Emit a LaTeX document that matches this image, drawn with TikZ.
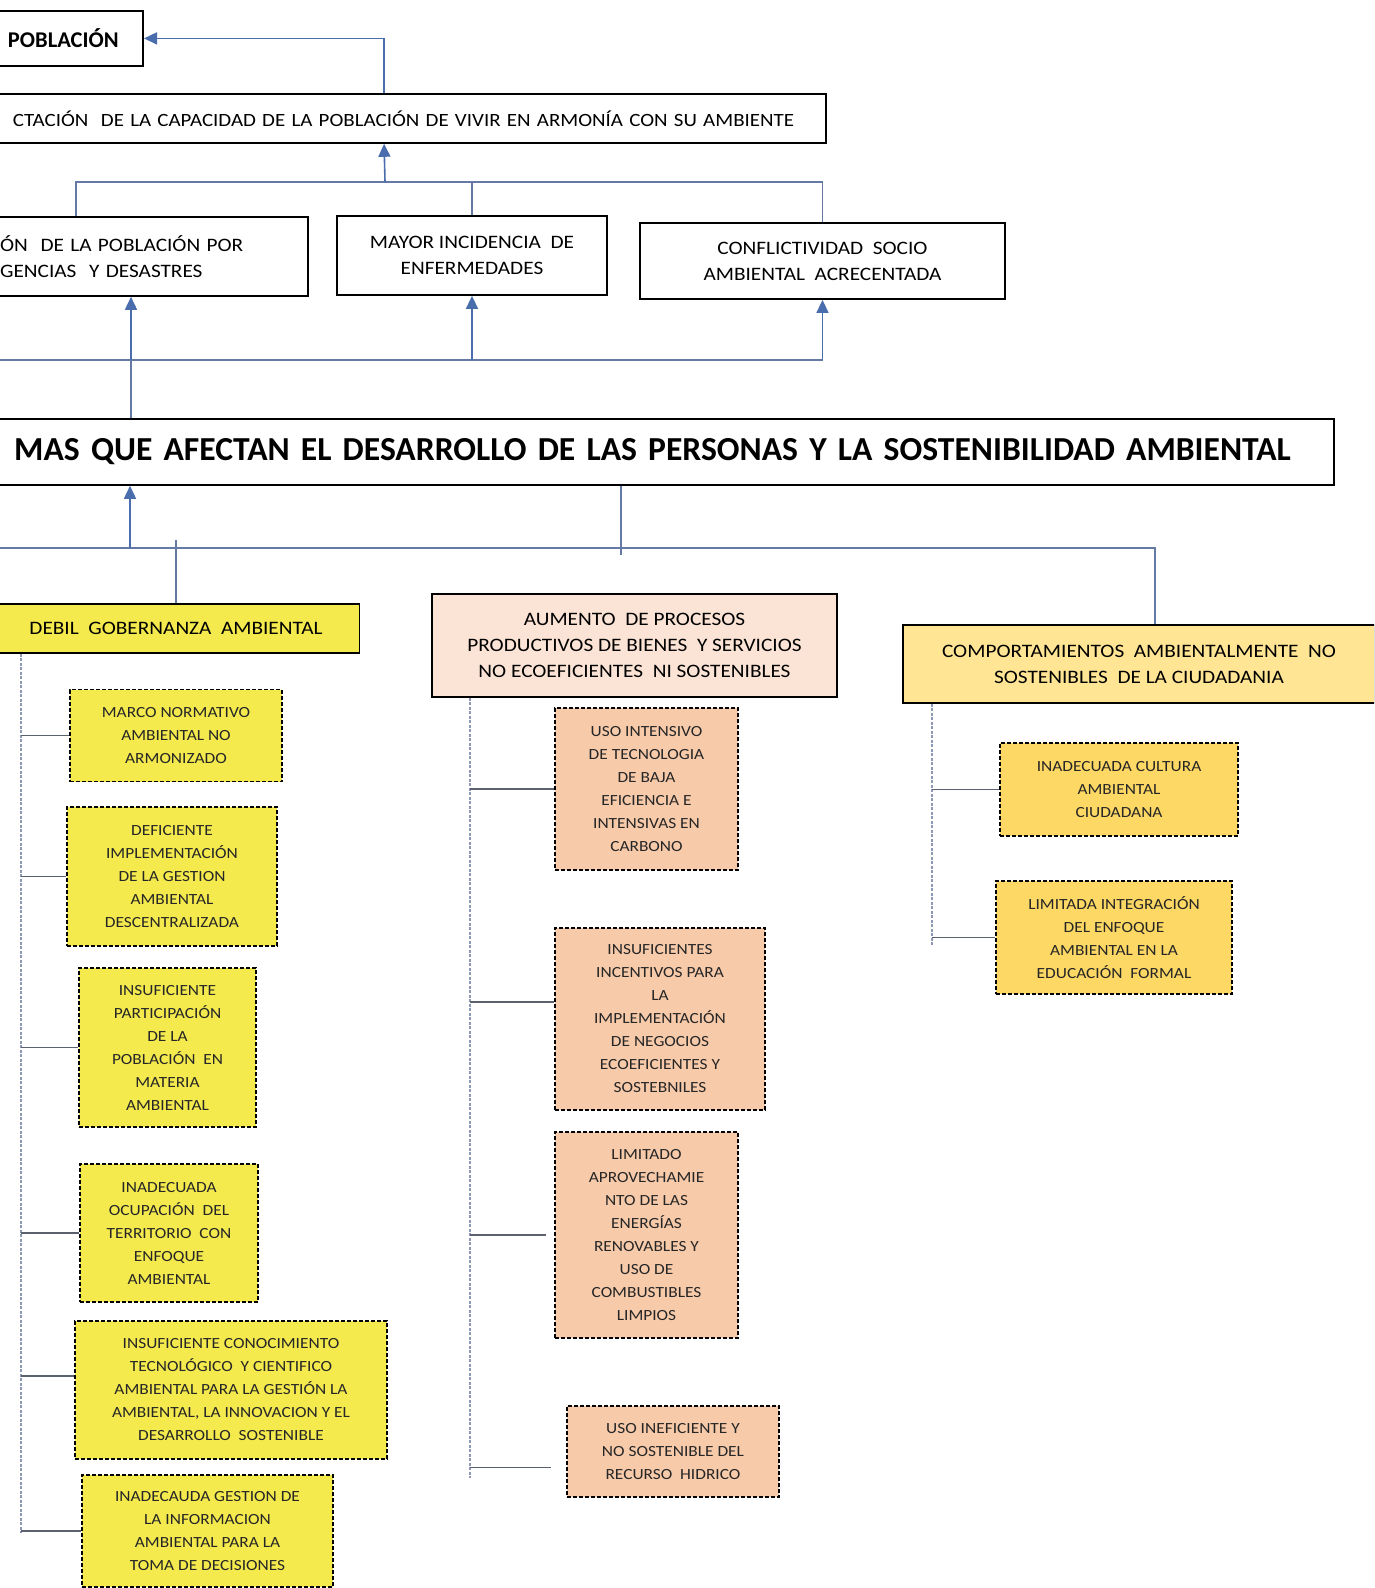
\documentclass[tikz,border=0pt]{standalone}
\usepackage{fontspec}
\setmainfont{Carlito}
\newfontfamily\widefont{Carlito}[FakeStretch=1.12]
\usetikzlibrary{arrows.meta, positioning}

\definecolor{arrowblue}{HTML}{4A6DAE}
\definecolor{linkblue}{HTML}{6479A3}
\definecolor{spinegray}{HTML}{8C98B4}
\definecolor{twiggray}{HTML}{5C6170}
\definecolor{govyellow}{HTML}{F4EA4E}
\definecolor{procpeach}{HTML}{FBE4D5}
\definecolor{subpeach}{HTML}{F7CAAA}
\definecolor{citgold}{HTML}{FFE594}
\definecolor{subgold}{HTML}{FDD864}

\begin{document}
\begin{tikzpicture}[x=1pt, y=-1pt,
  topbox/.style={draw, line width=1.8pt, fill=white, font=\widefont\fontsize{19}{26}\selectfont, align=center, inner sep=0pt},
  mainbox/.style={draw, line width=1.8pt, fill=white, font=\bfseries\fontsize{33.6}{40}\selectfont, inner sep=0pt},
  causebox/.style={draw, line width=1.8pt, font=\widefont\fontsize{19}{26}\selectfont, align=center, inner sep=0pt},
  subbox/.style={draw, line width=1.6pt, dash pattern=on 4pt off 2pt, font=\widefont\fontsize{15.5}{23}\selectfont, text=black!85, align=center, inner sep=0pt},
  arr/.style={arrowblue, line width=1.6pt, -{Triangle[length=13pt,width=12pt]}},
  link/.style={linkblue, line width=1.6pt},
  spine/.style={spinegray, line width=1.3pt, dash pattern=on 3pt off 1.5pt},
  twig/.style={twiggray, line width=1.5pt}
]
\useasboundingbox (0,0) rectangle (1374,1588);
\fill[white] (0,0) rectangle (1374,1588);
\clip (0,0) rectangle (1374,1588);

% effects
\node[topbox, font=\bfseries\fontsize{22.5}{26}\selectfont, anchor=north east, minimum height=55pt, text width=200pt, align=right, inner xsep=24.5pt] (pob) at (144,10) {POBLACIÓN};
\node[topbox, font=\widefont\fontsize{18.7}{26}\selectfont, anchor=north east, minimum height=49pt, text width=820pt, align=right, inner xsep=32pt] (cap) at (827,93) {CTACIÓN\ \ DE LA CAPACIDAD DE LA POBLACIÓN DE VIVIR EN ARMONÍA CON SU AMBIENTE};
\node[topbox, anchor=north east, minimum height=79pt, text width=300pt, align=left, inner xsep=8pt] (emg) at (309,216) {ÓN\ \ DE LA POBLACIÓN POR\\GENCIAS\ \ Y DESASTRES};
\node[topbox, minimum width=270pt, minimum height=79pt] (enf) at (472,255.5) {MAYOR INCIDENCIA\ \ DE\\ENFERMEDADES};
\node[topbox, minimum width=365pt, minimum height=76pt] (conf) at (822.5,261) {CONFLICTIVIDAD\ \ SOCIO\\AMBIENTAL\ \ ACRECENTADA};

% central problem
\node[mainbox, anchor=north east, minimum height=66pt, text width=1400pt, align=right, inner xsep=43pt] (main) at (1334.5,418) {MAS QUE AFECTAN EL DESARROLLO DE LAS PERSONAS Y LA SOSTENIBILIDAD AMBIENTAL};

% causes
\node[causebox, fill=govyellow, minimum width=367pt, minimum height=49pt] (gob) at (176,628.5) {DEBIL\ \ GOBERNANZA\ \ AMBIENTAL};
\node[causebox, fill=procpeach, minimum width=405pt, minimum height=103pt] (aum) at (634.5,645.5) {AUMENTO\ \ DE PROCESOS\\PRODUCTIVOS DE BIENES\ \ Y SERVICIOS\\NO ECOEFICIENTES\ \ NI SOSTENIBLES};
\node[causebox, fill=citgold, minimum width=472pt, minimum height=78pt] (comp) at (1139,664) {COMPORTAMIENTOS\ \ AMBIENTALMENTE\ \ NO\\SOSTENIBLES\ \ DE LA CIUDADANIA};

% sub-causes
\node[subbox, fill=govyellow, minimum width=212pt, minimum height=92pt] (g1) at (176,735.5) {MARCO NORMATIVO\\AMBIENTAL NO\\ARMONIZADO};
\node[subbox, fill=govyellow, minimum width=210pt, minimum height=139pt] (g2) at (172,876.5) {DEFICIENTE\\IMPLEMENTACIÓN\\DE LA GESTION\\AMBIENTAL\\DESCENTRALIZADA};
\node[subbox, fill=govyellow, minimum width=177pt, minimum height=159pt] (g3) at (167.5,1047.5) {INSUFICIENTE\\PARTICIPACIÓN\\DE LA\\POBLACIÓN\ \ EN\\MATERIA\\AMBIENTAL};
\node[subbox, fill=govyellow, minimum width=178pt, minimum height=138pt] (g4) at (169,1233) {INADECUADA\\OCUPACIÓN\ \ DEL\\TERRITORIO\ \ CON\\ENFOQUE\\AMBIENTAL};
\node[subbox, fill=govyellow, minimum width=312pt, minimum height=138pt] (g5) at (231,1390) {INSUFICIENTE CONOCIMIENTO\\TECNOLÓGICO\ \ Y CIENTIFICO\\AMBIENTAL PARA LA GESTIÓN LA\\AMBIENTAL, LA INNOVACION Y EL\\DESARROLLO\ \ SOSTENIBLE};
\node[subbox, fill=govyellow, minimum width=251pt, minimum height=112pt] (g6) at (207.5,1531) {INADECAUDA GESTION DE\\LA INFORMACION\\AMBIENTAL PARA LA\\TOMA DE DECISIONES};

\node[subbox, fill=subpeach, minimum width=183pt, minimum height=162pt] (p1) at (646.5,789) {USO INTENSIVO\\DE TECNOLOGIA\\DE BAJA\\EFICIENCIA E\\INTENSIVAS EN\\CARBONO};
\node[subbox, fill=subpeach, minimum width=210pt, minimum height=182pt] (p2) at (660,1019) {INSUFICIENTES\\INCENTIVOS PARA\\LA\\IMPLEMENTACIÓN\\DE NEGOCIOS\\ECOEFICIENTES Y\\SOSTEBNILES};
\node[subbox, fill=subpeach, minimum width=183pt, minimum height=206pt] (p3) at (646.5,1235) {LIMITADO\\APROVECHAMIE\\NTO DE LAS\\ENERGÍAS\\RENOVABLES Y\\USO DE\\COMBUSTIBLES\\LIMPIOS};
\node[subbox, fill=subpeach, minimum width=212pt, minimum height=91pt] (p4) at (673,1451.5) {USO INEFICIENTE Y\\NO SOSTENIBLE DEL\\RECURSO\ \ HIDRICO};

\node[subbox, fill=subgold, minimum width=238pt, minimum height=93pt] (c1) at (1119,789.5) {INADECUADA CULTURA\\AMBIENTAL\\CIUDADANA};
\node[subbox, fill=subgold, minimum width=236pt, minimum height=113pt] (c2) at (1114,937.5) {LIMITADA INTEGRACIÓN\\DEL ENFOQUE\\AMBIENTAL EN LA\\EDUCACIÓN\ \ FORMAL};

% upper tree
\coordinate (j1) at (385,182);
\coordinate (j2) at (131,360);
\coordinate (j3) at (130,548);
\coordinate (j4) at (621,555);
\draw[arr] (cap.north) |- (pob.east);
\draw[link] ([xshift=85pt]emg.north west) |- (j1) -| (conf.north);
\draw[link] (enf.north) |- (j1);
\draw[arr] (j1) -- (cap.south);
\draw[link] (main.north west |- j2) -- (j2 -| conf.south);
\draw[arr] (j2) -- (emg.south -| j2);
\draw[arr] (j2 -| enf.south) -- (enf.south);
\draw[arr] (j2 -| conf.south) -- (conf.south);
\draw[link] (j2) -- (j2 |- main.north);

% lower tree
\draw[link] (main.south west |- j3) -| ([xshift=16pt]comp.north);
\draw[arr] (j3) -- (j3 |- main.south);
\draw[link] ([yshift=8pt]j3 -| gob.north) -- (gob.north);
\draw[link] (j4 |- main.south) -- (j4);

% branches
\coordinate (sg) at (21,1533);
\coordinate (sp) at (470,1478);
\coordinate (sc) at (932,945);
\coordinate (g5in) at ([yshift=14pt]g5.west);
\coordinate (p2in) at ([yshift=17pt]p2.west);
\coordinate (p3in) at ([xshift=-8pt]p3.west);
\coordinate (p4in) at ([xshift=-15pt,yshift=-16pt]p4.west);
\draw[spine] (sg |- gob.south) -- (sg);
\draw[spine] (sp |- aum.south) -- (sp);
\draw[spine] (sc |- comp.south) -- (sc);
\foreach \b in {g1,g2,g3,g4,g6}
  \draw[twig] (sg |- \b.west) -- (\b.west);
\draw[twig] (sg |- g5in) -- (g5in);
\draw[twig] (sp |- p1.west) -- (p1.west);
\draw[twig] (sp |- p2in) -- (p2in);
\draw[twig] (sp |- p3in) -- (p3in);
\draw[twig] (sp |- p4in) -- (p4in);
\draw[twig] (sc |- c1.west) -- (c1.west);
\draw[twig] (sc |- c2.west) -- (c2.west);
\end{tikzpicture}
\end{document}
